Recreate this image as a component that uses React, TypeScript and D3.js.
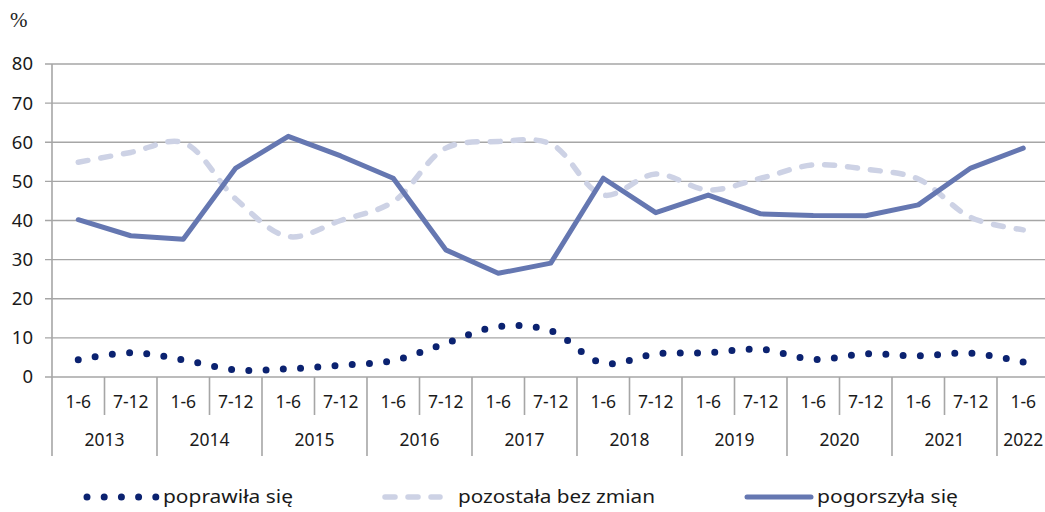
import React, { useLayoutEffect, useRef, useState } from "react";
import * as d3 from "d3";

const halves = ["1-6","7-12","1-6","7-12","1-6","7-12","1-6","7-12","1-6","7-12","1-6","7-12","1-6","7-12","1-6","7-12","1-6","7-12","1-6"];
const years = ["2013","2014","2015","2016","2017","2018","2019","2020","2021","2022"];
const yTicks = [0,10,20,30,40,50,60,70,80];

const poprawila = [4.4,6.2,4.4,1.8,2.1,3.0,4.2,8.6,12.9,11.8,3.5,5.9,6.2,7.1,4.5,5.9,5.4,6.1,3.8];
const pozostala = [54.9,57.4,59.9,45.5,35.9,40.0,44.8,58.5,60.2,59.6,46.5,51.9,47.8,50.8,54.2,53.1,50.6,40.8,37.6];
const pogorszyla = [40.2,36.1,35.2,53.4,61.5,56.5,50.8,32.5,26.5,29.1,50.8,42.0,46.5,41.7,41.3,41.2,44.0,53.4,58.5];

const legendLabels = ["poprawiła się","pozostała bez zmian","pogorszyła się"];

const W = 1045, H = 512;
const left = 52, step = 52.5;
const GRID = "#A6A6A6";
const C_DOT = "#0B2270";
const C_DASH = "#CDD2E5";
const C_SOLID = "#6577B1";
const FONT = "'Noto Sans', 'Open Sans', sans-serif";

export default function App() {
  const idx = halves.map((_, i) => i);
  const x = d3.scaleBand<number>().domain(idx).range([left, left + step * halves.length]).paddingInner(0).paddingOuter(0);
  const y = d3.scaleLinear().domain([0, 80]).range([377, 64]);
  const cx = (i: number) => (x(i) as number) + x.bandwidth() / 2;

  const smooth = d3.line<number>().x((_, i) => cx(i)).y(d => y(d)).curve(d3.curveCatmullRom.alpha(0.5));
  const straight = d3.line<number>().x((_, i) => cx(i)).y(d => y(d));

  const dotRef = useRef<SVGPathElement>(null);
  const [gap, setGap] = useState(17.4);
  useLayoutEffect(() => {
    if (dotRef.current) {
      const L = dotRef.current.getTotalLength();
      const n = Math.max(1, Math.round(L / 17.4));
      setGap((L - 0.5) / n);
    }
  }, []);

  const y0 = y(0);
  return (
    <svg width={W} height={H} style={{ position: "absolute", left: 0, top: 0, background: "#fff" }}>
      <text x={10} y={27} fontFamily="'Liberation Serif', 'DejaVu Serif', serif" fontSize={21} fill="#222">%</text>
      {yTicks.map(t => (
        <g key={t}>
          <line x1={45} x2={W} y1={y(t)} y2={y(t)} stroke={GRID} strokeWidth={1.4} />
          <text x={33} y={y(t)} dy="0.35em" textAnchor="end" fontFamily={FONT} fontSize={18.5} fill="#1a1a1a">{t}</text>
        </g>
      ))}
      <line x1={left} x2={left} y1={y(80)} y2={456} stroke={GRID} strokeWidth={1.6} />
      {idx.slice(1).map(i => {
        const isYear = i % 2 === 0;
        return <line key={i} x1={x(i) as number} x2={x(i) as number} y1={y0} y2={isYear ? 456 : 415} stroke={GRID} strokeWidth={1.6} />;
      })}
      {halves.map((h, i) => (
        <text key={i} x={cx(i)} y={402} dy="0.35em" textAnchor="middle" fontFamily={FONT} fontSize={17.5} fill="#1a1a1a">{h}</text>
      ))}
      {years.map((yr, k) => {
        const i0 = k * 2;
        const i1 = Math.min(k * 2 + 1, halves.length - 1);
        const mid = ((x(i0) as number) + (x(i1) as number) + x.bandwidth()) / 2;
        return <text key={yr} x={k === years.length - 1 ? cx(i0) : mid} y={440} dy="0.35em" textAnchor="middle" fontFamily={FONT} fontSize={17.5} fill="#1a1a1a">{yr}</text>;
      })}
      <path d={smooth(pozostala) || ""} fill="none" stroke={C_DASH} strokeWidth={5.5} strokeDasharray="10 13" strokeLinecap="round" />
      <path d={straight(pogorszyla) || ""} fill="none" stroke={C_SOLID} strokeWidth={5} strokeLinejoin="round" strokeLinecap="round" />
      <path ref={dotRef} d={smooth(poprawila) || ""} fill="none" stroke={C_DOT} strokeWidth={7} strokeDasharray={`0 ${gap}`} strokeLinecap="round" />
      {/* legend */}
      <line x1={87} x2={156} y1={497} y2={497} stroke={C_DOT} strokeWidth={7} strokeDasharray="0 17.2" strokeLinecap="round" />
      <text x={163} y={497} dy="0.35em" fontFamily={FONT} fontSize={18.5} textLength={130} lengthAdjust="spacingAndGlyphs" fill="#1a1a1a">{legendLabels[0]}</text>
      <line x1={385} x2={440} y1={497} y2={497} stroke={C_DASH} strokeWidth={5.5} strokeDasharray="10 13" strokeLinecap="round" />
      <text x={458} y={497} dy="0.35em" fontFamily={FONT} fontSize={18.5} textLength={197} lengthAdjust="spacingAndGlyphs" fill="#1a1a1a">{legendLabels[1]}</text>
      <line x1={747} x2={811} y1={497} y2={497} stroke={C_SOLID} strokeWidth={5} strokeLinecap="round" />
      <text x={817} y={497} dy="0.35em" fontFamily={FONT} fontSize={18.5} textLength={141} lengthAdjust="spacingAndGlyphs" fill="#1a1a1a">{legendLabels[2]}</text>
    </svg>
  );
}
